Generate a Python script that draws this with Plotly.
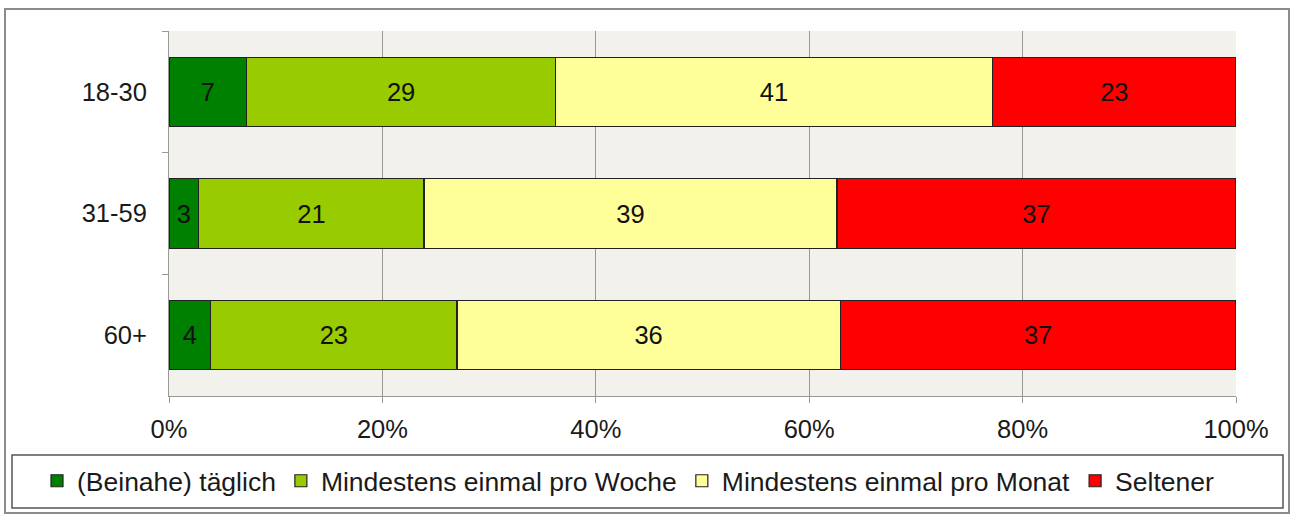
import plotly.graph_objects as go

categories = ["18-30", "31-59", "60+"]
series_names = ["(Beinahe) täglich", "Mindestens einmal pro Woche",
                "Mindestens einmal pro Monat", "Seltener"]
taeglich = [7.3, 2.8, 3.9]
woche = [28.9, 21.1, 23.1]
monat = [41.0, 38.7, 35.9]
seltener = [22.8, 37.4, 37.1]
x_ticks = [0, 20, 40, 60, 80, 100]
colors = ["#008000", "#99CC00", "#FFFF99", "#FF0000"]

FONT = "Liberation Sans, Arial, sans-serif"
FS = 25.5
W, H = 1291, 514
L, R, T, B = 169, 1236, 31, 396

fig = go.Figure()
for name, vals, col in zip(series_names, [taeglich, woche, monat, seltener], colors):
    fig.add_trace(go.Bar(
        y=categories, x=vals, name=name, orientation="h",
        marker=dict(color=col, line=dict(color="#222222", width=1.2)),
        texttemplate="%{x:.0f}", textposition="inside", insidetextanchor="middle",
        textangle=0, insidetextfont=dict(family=FONT, size=FS, color="#111111"),
        hoverinfo="skip",
    ))

def px(x):
    return (x - L) / (R - L)

def py(y):
    return (B - y) / (B - T)

fig.update_layout(
    width=W, height=H, barmode="stack", bargap=0.43,
    margin=dict(l=L, r=W - R, t=T, b=H - B, autoexpand=False),
    paper_bgcolor="white", plot_bgcolor="#F2F1EB",
    font=dict(family=FONT, size=FS, color="#1a1a1a"),
    showlegend=True,
    legend=dict(orientation="h", x=px(37), xanchor="left", y=py(481), yanchor="middle",
                font=dict(size=26.5), bgcolor="rgba(0,0,0,0)", borderwidth=0,
                traceorder="normal", itemwidth=30),
    shapes=[
        dict(type="rect", xref="paper", yref="paper", x0=px(5), x1=px(1289), y0=py(9), y1=py(513),
             line=dict(color="#8c8c8c", width=2), layer="below"),
        dict(type="rect", xref="paper", yref="paper", x0=px(12), x1=px(1283), y0=py(455), y1=py(508),
             line=dict(color="#555555", width=1.5), layer="below"),
    ],
)
fig.update_xaxes(range=[0, 100], tickvals=x_ticks, ticktext=[f"{v}%" for v in x_ticks],
                 showgrid=True, gridcolor="#999999", gridwidth=1,
                 showline=True, linecolor="#999999", linewidth=1,
                 ticks="outside", ticklen=6, tickcolor="#999999", ticklabelstandoff=4,
                 zeroline=False, tickfont=dict(size=FS), fixedrange=True)
fig.update_yaxes(autorange="reversed", tickson="boundaries", ticks="outside", ticklen=6,
                 tickcolor="#999999", showline=True, linecolor="#999999", linewidth=1,
                 showgrid=False, tickfont=dict(size=FS), ticklabelstandoff=16, fixedrange=True)

fig.write_html("out.html", config={"displayModeBar": False},
               post_script="document.body.style.margin='0';document.body.style.padding='0';")
